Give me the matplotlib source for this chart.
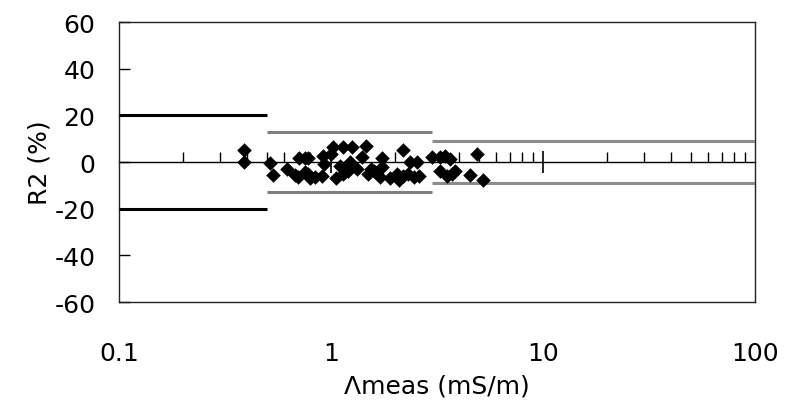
import numpy as np
import matplotlib
matplotlib.use('Agg')
import matplotlib.pyplot as plt

plt.rcParams['axes.unicode_minus'] = False

# measured conductivity (mS/m) and relative deviation R2 (%)
cond = [0.39, 0.39, 0.515, 0.53, 0.62, 0.71, 0.70, 0.75, 0.75, 0.78,
        0.78, 0.84, 0.91, 0.92, 0.93, 1.02, 1.14, 1.26, 1.46, 1.10,
        1.23, 1.14, 1.33, 1.49, 1.55, 1.74, 1.74, 1.60, 1.70, 2.18,
        2.05, 2.18, 2.36, 2.54, 2.30, 2.99, 3.26, 3.26, 3.45, 3.64,
        3.52, 3.72, 3.84, 4.52, 4.88, 5.20, 0.68, 0.80, 1.00, 1.05,
        1.20, 1.40, 1.90, 2.10, 2.45, 2.60]
r2 = [5.1, 0.0, -0.4, -5.5, -3.0, 1.7, -6.4, -4.3, 1.7, -5.0,
      1.7, -6.4, -6.0, 2.6, -0.9, 6.4, 6.4, 6.4, 6.8, -1.7,
      0.0, -5.0, -3.0, -5.0, -3.0, 1.7, -2.0, -3.8, -6.4, 5.1,
      -5.0, -6.0, 0.0, 0.0, -5.0, 2.1, 2.1, -3.8, 2.6, 1.3,
      -6.0, -5.0, -3.8, -5.5, 3.4, -7.7, -5.5, -7.0, 3.4, -7.0,
      -4.0, 2.0, -7.0, -7.5, -6.5, -6.0]

# tolerance bands per conductivity range
band_lo = [0.1, 0.5, 3.0]
band_hi = [0.5, 3.0, 100.0]
band_lim = [20, 13, 9]
band_col = ['black', '#7f7f7f', '#8c8c8c']

fig = plt.figure(figsize=(7.85, 4.14), dpi=100)
ax = fig.add_axes([0.1516, 0.268, 0.8102, 0.6764])

for lo, hi, lim, c in zip(band_lo, band_hi, band_lim, band_col):
    ax.hlines([lim, -lim], lo, hi, colors=c, lw=2.2, zorder=3)

ax.scatter(cond, r2, marker='D', s=55, color='black', zorder=4, linewidths=0)

ax.set_xscale('log')
ax.set_xlim(0.1, 100)
ax.set_ylim(-60, 60)
ax.set_yticks(np.arange(-60, 61, 20))
ax.set_xticks([0.1, 1, 10, 100])
ax.set_xticklabels(['0.1', '1', '10', '100'])
ax.xaxis.set_minor_locator(matplotlib.ticker.NullLocator())

ax.tick_params(axis='x', which='both', length=0, pad=28, labelsize=18)
ax.tick_params(axis='y', direction='in', length=8, width=1, pad=17, labelsize=18)
for s in ax.spines.values():
    s.set_linewidth(1.0)
    s.set_color('#222222')

# axis crossing at y = 0 with its own ticks
zero_ax = ax.secondary_xaxis(0.5)
zero_ax.xaxis.set_major_locator(matplotlib.ticker.FixedLocator([1, 10]))
zero_ax.xaxis.set_minor_locator(matplotlib.ticker.LogLocator(base=10, subs=np.arange(2, 10)))
zero_ax.tick_params(which='major', direction='inout', length=16, width=1.2,
                    labeltop=False, labelbottom=False)
zero_ax.tick_params(which='minor', direction='out', length=7, width=1.0,
                    labeltop=False, labelbottom=False)
for s in zero_ax.spines.values():
    s.set_linewidth(1.0)
    s.set_color('black')

ax.set_xlabel('Λmeas (mS/m)', fontsize=18, labelpad=6)
ax.set_ylabel('R2 (%)', fontsize=18, labelpad=2)

fig.savefig('out.png', dpi=100)
